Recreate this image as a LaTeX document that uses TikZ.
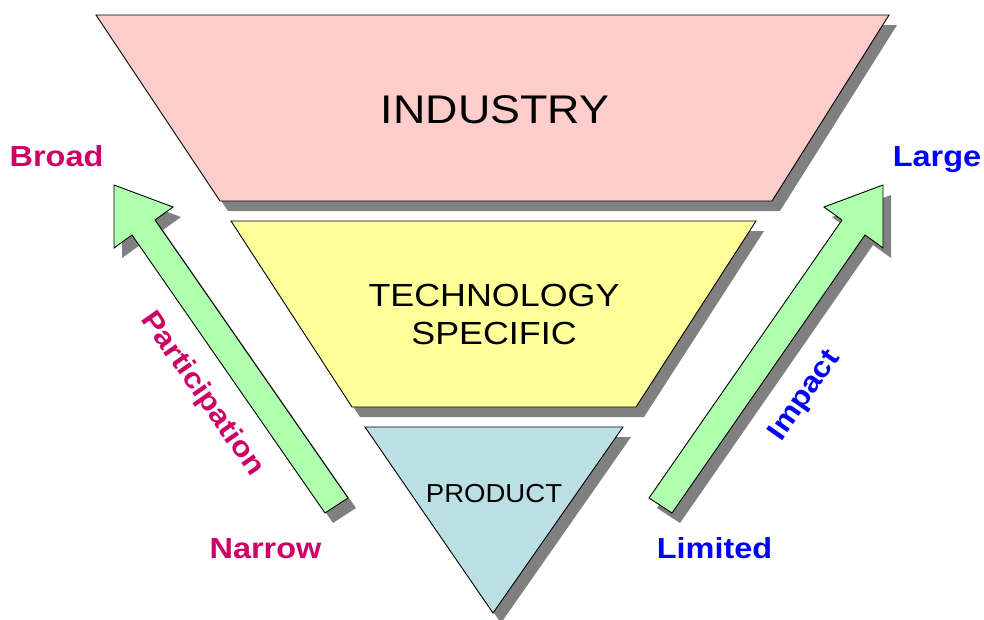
\documentclass[tikz,border=0pt]{standalone}
\usepackage{fontspec}
\setmainfont{Liberation Sans}
\usepackage{graphicx}
\usetikzlibrary{shadows}
\definecolor{indpink}{HTML}{FFCCCC}
\definecolor{techyellow}{HTML}{FFFF99}
\definecolor{prodblue}{HTML}{BBE0E3}
\definecolor{arrgreen}{HTML}{AEFFAE}
\definecolor{shadowgray}{HTML}{808080}
\definecolor{labmag}{HTML}{CC0066}
\definecolor{labblue}{HTML}{0000FF}
\newcommand{\wide}[2][1.12]{\scalebox{#1}[1]{#2}}
\begin{document}
\begin{tikzpicture}[x=1pt,y=-1pt,
  solid shape/.style={draw=black, line width=0.9pt, line join=miter,
    drop shadow={shadow xshift=8pt, shadow yshift=-10pt, fill=shadowgray, opacity=1}},
  big label/.style={anchor=base, inner sep=0pt, font=\fontsize{40}{48}\selectfont},
  mid label/.style={anchor=base, inner sep=0pt, font=\fontsize{32}{38}\selectfont},
  side label/.style={anchor=base, inner sep=0pt, font=\fontsize{29}{34}\selectfont\bfseries},
  axis label/.style={inner sep=0pt, font=\fontsize{28.5}{33}\selectfont\bfseries}]
\useasboundingbox (0,0) rectangle (984,619);

% Industry trapezoid
\coordinate (i1) at (96,15);  \coordinate (i2) at (889,15);
\coordinate (i3) at (772,201); \coordinate (i4) at (220,201);
\path[solid shape, fill=indpink] (i1) -- (i2) -- (i3) -- (i4) -- cycle;

% Technology trapezoid
\coordinate (t1) at (231,221); \coordinate (t2) at (756,221);
\coordinate (t3) at (636,407); \coordinate (t4) at (352,407);
\path[solid shape, fill=techyellow] (t1) -- (t2) -- (t3) -- (t4) -- cycle;

% Product triangle
\coordinate (p1) at (365,427); \coordinate (p2) at (623,427);
\coordinate (p3) at (493,613);
\path[solid shape, fill=prodblue] (p1) -- (p2) -- (p3) -- cycle;

% Left arrow
\coordinate (la1) at (325,513); \coordinate (la2) at (348,498);
\coordinate (la3) at (155,220); \coordinate (la4) at (173,207);
\coordinate (la5) at (114,185); \coordinate (la6) at (114,248);
\coordinate (la7) at (132,235);
\path[solid shape, fill=arrgreen] (la1) -- (la2) -- (la3) -- (la4) -- (la5) -- (la6) -- (la7) -- cycle;

% Right arrow
\coordinate (ra1) at (672,513); \coordinate (ra2) at (649,498);
\coordinate (ra3) at (842,220); \coordinate (ra4) at (824,207);
\coordinate (ra5) at (883,185); \coordinate (ra6) at (883,248);
\coordinate (ra7) at (865,235);
\path[solid shape, fill=arrgreen] (ra1) -- (ra2) -- (ra3) -- (ra4) -- (ra5) -- (ra6) -- (ra7) -- cycle;

% Texts
\node[big label] (industry) at (495,123) {\wide{INDUSTRY}};
\node[mid label] (tech) at (494,306) {\wide{TECHNOLOGY}};
\node[mid label] (spec) at (494,344) {\wide{SPECIFIC}};
\node[anchor=base, inner sep=0pt, font=\fontsize{26}{30}\selectfont] (product) at (494,502) {\wide[1.06]{PRODUCT}};

\node[side label, text=labmag] (broad) at (56.5,166) {\wide{Broad}};
\node[side label, text=labmag] (narrow) at (265.5,558) {\wide{Narrow}};
\node[side label, text=labblue] (large) at (937,166) {\wide{Large}};
\node[side label, text=labblue] (limited) at (714.5,558) {\wide{Limited}};

\node[axis label, text=labmag, rotate=-55] (particip) at (202,394) {\wide{Participation}};
\node[axis label, text=labblue, rotate=55] (impact) at (805,396) {\wide{Impact}};
\end{tikzpicture}
\end{document}
